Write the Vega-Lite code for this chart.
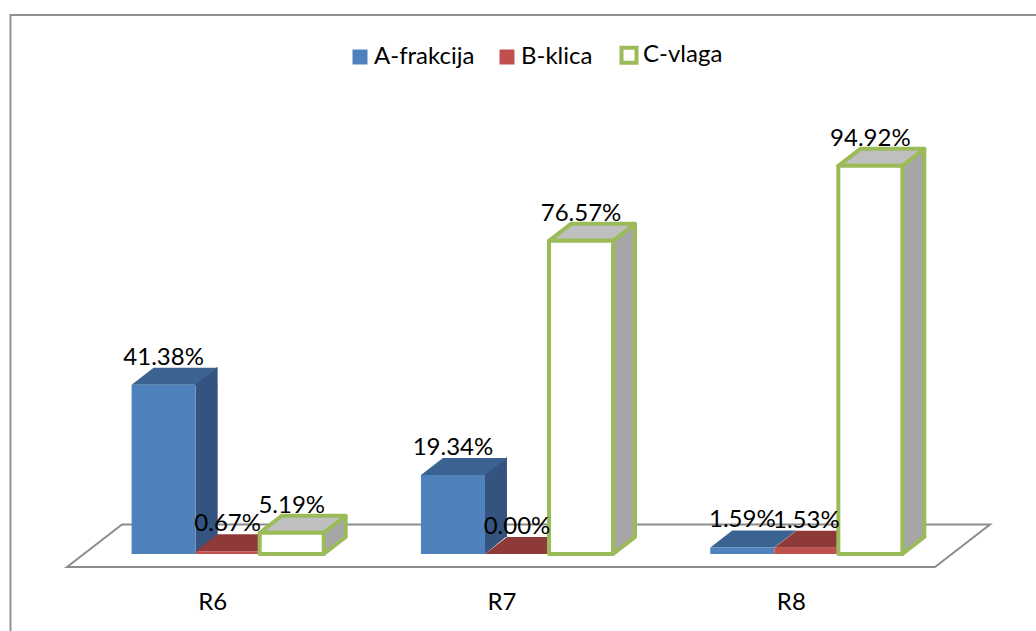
{
"$schema":"https://vega.github.io/schema/vega-lite/v6.json",
"width":1040,"height":625,
"autosize":{"type":"none"},
"padding":{"left":10.5,"top":15,"right":0,"bottom":0},
"background":"white",
"view":{"stroke":"#8f8f8f","strokeWidth":2,"fill":"white"},
"config":{"font":"Lato","text":{"font":"Lato"}},
"data":{"values":[
{"cat":"R6","series":"A-frakcija","value":0.4138},
{"cat":"R6","series":"B-klica","value":0.0067},
{"cat":"R6","series":"C-vlaga","value":0.0519},
{"cat":"R7","series":"A-frakcija","value":0.1934},
{"cat":"R7","series":"B-klica","value":0.0},
{"cat":"R7","series":"C-vlaga","value":0.7657},
{"cat":"R8","series":"A-frakcija","value":0.0159},
{"cat":"R8","series":"B-klica","value":0.0153},
{"cat":"R8","series":"C-vlaga","value":0.9492}
]},
"encoding":{
"x":{"field":"cat","type":"nominal","scale":{"domain":["R6","R7","R8"],"range":[72.5,940.5],"paddingInner":0.336,"paddingOuter":0.168},
"axis":{"title":null,"domain":false,"ticks":false,"grid":false,"labelAngle":0,"labelOffset":-15,"labelFont":"Lato","labelFontSize":24,"labelColor":"#000000","labelBaseline":"middle","labelPadding":0,"offset":-38}},
"y":{"field":"value","type":"quantitative","stack":null,"scale":{"domain":[0,1.318],"range":[539,0],"nice":false},"axis":null}
},
"layer":[
{"transform":[{"filter":"datum.cat=='R7' && datum.series=='A-frakcija'"}],
"mark":{"type":"point","filled":true,"size":4,"fill":"white","stroke":"#8c8c8c","strokeWidth":2,"opacity":1,"shape":"M-450,13 L-395,-29.5 L473,-29.5 L418,13 Z"},
"encoding":{"y":{"datum":0}}},
{"transform":[{"filter":"datum.value>0.03 && datum.series=='A-frakcija'"}],
"mark":{"type":"bar","width":22,"xOffset":-21,"y2Offset":-17,"fill":"#34537e"},
"encoding":{"y2":{"datum":0}}},
{"transform":[{"filter":"datum.value>0.03 && datum.series=='C-vlaga'"}],
"mark":{"type":"bar","width":22,"xOffset":107,"y2Offset":-17,"fill":"#a6a6a6"},
"encoding":{"y2":{"datum":0}}},
{"transform":[{"filter":"datum.value>0.03"}],
"mark":{"type":"point","filled":true,"size":4,"opacity":1,"strokeWidth":0,"shape":"M31,-1 L54,-18 L54,1 L31,1 Z"},
"encoding":{"xOffset":{"field":"series","scale":{"domain":["A-frakcija","B-klica","C-vlaga"]}},
"fill":{"condition":[{"test":"datum.series=='A-frakcija'","value":"#34537e"}],"value":"#a6a6a6"}}},
{"transform":[{"filter":"datum.value>0.03"}],
"mark":{"type":"point","filled":true,"size":4,"opacity":1,"strokeWidth":0,"shape":"M32,0 L32,-18 L54,-18 Z"},
"encoding":{"xOffset":{"field":"series","scale":{"domain":["A-frakcija","B-klica","C-vlaga"]}},"y":{"datum":0},
"fill":{"condition":[{"test":"datum.series=='A-frakcija'","value":"#34537e"}],"value":"#a6a6a6"}}},
{"mark":{"type":"point","filled":true,"size":4,"opacity":1,"strokeJoin":"round","shape":"M-32,0 L32,0 L54,-17 L-10,-17 Z"},
"encoding":{"xOffset":{"field":"series","scale":{"domain":["A-frakcija","B-klica","C-vlaga"]}},
"fill":{"condition":[{"test":"datum.series=='A-frakcija'","value":"#3a6391"},{"test":"datum.series=='B-klica'","value":"#8e3a38"}],"value":"#bfbfbf"},
"stroke":{"condition":[{"test":"datum.series=='C-vlaga'","value":"#9bbb59"}],"value":null},
"strokeWidth":{"condition":[{"test":"datum.series=='C-vlaga'","value":4}],"value":0}}},
{"transform":[{"filter":"datum.series=='C-vlaga'"}],
"mark":{"type":"point","filled":false,"size":4,"opacity":1,"stroke":"#9bbb59","strokeWidth":4,"strokeJoin":"round","strokeCap":"round","shape":"M32,0 L54,-17"},
"encoding":{"xOffset":{"field":"series","scale":{"domain":["A-frakcija","B-klica","C-vlaga"]}},"y":{"datum":0}}},
{"transform":[{"filter":"datum.series=='C-vlaga'"}],
"mark":{"type":"bar","width":4,"fill":"#9bbb59","xOffset":118,"yOffset":-17,"y2Offset":-17},
"encoding":{"y2":{"datum":0}}},
{"mark":{"type":"bar","strokeJoin":"round"},
"encoding":{"xOffset":{"field":"series","scale":{"domain":["A-frakcija","B-klica","C-vlaga"]}},"y2":{"datum":0},
"fill":{"field":"series","type":"nominal","scale":{"domain":["A-frakcija","B-klica","C-vlaga"],"range":["#4f81bd","#c0504d","#ffffff"]},
"legend":{"title":null,"orient":"none","legendX":337.5,"legendY":28,"direction":"horizontal","columns":3,"columnPadding":20,"symbolType":"square","symbolSize":225,"labelFont":"Lato","labelFontSize":24,"labelColor":"#000000","labelOffset":2,"symbolOpacity":1}},
"stroke":{"field":"series","type":"nominal","scale":{"domain":["A-frakcija","B-klica","C-vlaga"],"range":["#4f81bd","#c0504d","#9bbb59"]},
"legend":{"title":null,"orient":"none","legendX":337.5,"legendY":28,"direction":"horizontal","columns":3,"columnPadding":20,"symbolType":"square","symbolSize":225,"labelFont":"Lato","labelFontSize":24,"labelColor":"#000000","labelOffset":2,"symbolOpacity":1}},
"strokeWidth":{"field":"series","type":"nominal","scale":{"type":"ordinal","domain":["A-frakcija","B-klica","C-vlaga"],"range":[0,0,4]},
"legend":{"title":null,"orient":"none","legendX":337.5,"legendY":28,"direction":"horizontal","columns":3,"columnPadding":20,"symbolType":"square","symbolSize":225,"labelFont":"Lato","labelFontSize":24,"labelColor":"#000000","labelOffset":2,"symbolOpacity":1}}}},
{"mark":{"type":"text","font":"Lato","fontSize":24,"fill":"#000000","baseline":"middle","dy":-27},
"encoding":{"xOffset":{"field":"series","scale":{"domain":["A-frakcija","B-klica","C-vlaga"]}},"text":{"field":"value","type":"quantitative","format":".2%"}}}
]
}
